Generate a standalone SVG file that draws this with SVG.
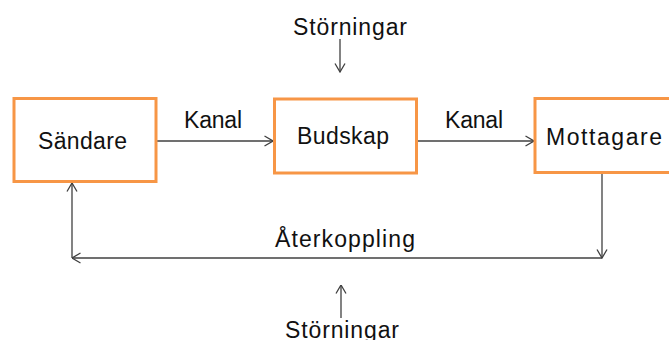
<svg xmlns="http://www.w3.org/2000/svg" width="669" height="340" viewBox="0 0 669 340">
  <defs>
    <marker id="open" viewBox="0 0 10 12" refX="9.5" refY="6" markerWidth="10" markerHeight="12" markerUnits="userSpaceOnUse" orient="auto">
      <path d="M1,1 L9.5,6 L1,11" fill="none" stroke="#404040" stroke-width="1.3"/>
    </marker>
    <style>
      .box { fill: #ffffff; stroke: #f79646; stroke-width: 3; }
      .lbl { font-family: "Liberation Sans", Arial, sans-serif; font-size: 23px; fill: #111111; }
      .wire { fill: none; stroke: #404040; stroke-width: 1.3; marker-end: url(#open); }
    </style>
  </defs>
  <rect width="669" height="340" fill="#ffffff"/>

  <g id="connectors">
    <line class="wire" x1="157" y1="141" x2="273" y2="141"/>
    <line class="wire" x1="418" y1="141" x2="534" y2="141"/>
    <line class="wire" x1="602" y1="174" x2="602" y2="258"/>
    <line class="wire" x1="602" y1="258" x2="72" y2="258"/>
    <line class="wire" x1="72" y1="258" x2="72" y2="183"/>
    <line class="wire" x1="340" y1="39" x2="340" y2="72"/>
    <line class="wire" x1="341" y1="318" x2="341" y2="285"/>
  </g>

  <g id="sandare">
    <rect class="box" x="14" y="98.5" width="142" height="83"/>
    <text class="lbl" x="38" y="149" textLength="89">Sändare</text>
  </g>
  <g id="budskap">
    <rect class="box" x="274.5" y="99" width="142" height="74"/>
    <text class="lbl" x="297" y="144" textLength="92">Budskap</text>
  </g>
  <g id="mottagare">
    <rect class="box" x="535" y="98.5" width="140" height="74"/>
    <text class="lbl" x="546" y="145" textLength="116">Mottagare</text>
  </g>

  <g id="labels">
    <text class="lbl" x="184" y="128" textLength="58">Kanal</text>
    <text class="lbl" x="445" y="128" textLength="58">Kanal</text>
    <text class="lbl" x="293" y="35" textLength="114">Störningar</text>
    <text class="lbl" x="275" y="247" textLength="140">Återkoppling</text>
    <text class="lbl" x="285" y="338" textLength="114">Störningar</text>
  </g>
</svg>
